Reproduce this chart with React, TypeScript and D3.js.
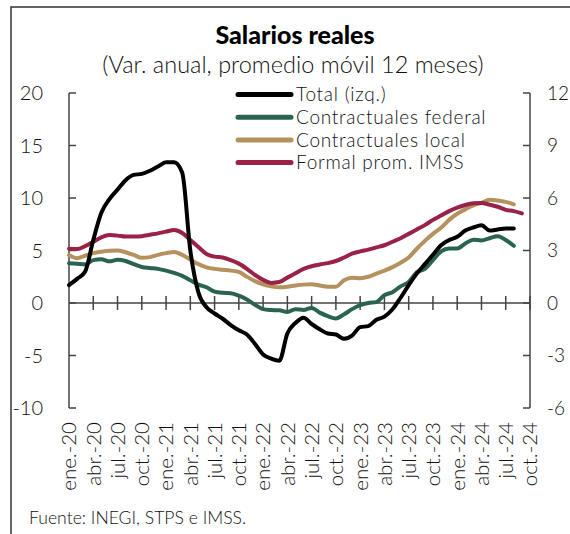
import React from "react";
import * as d3 from "d3";

const tickLabels = [
  "ene.-20", "abr.-20", "jul.-20", "oct.-20",
  "ene.-21", "abr.-21", "jul.-21", "oct.-21",
  "ene.-22", "abr.-22", "jul.-22", "oct.-22",
  "ene.-23", "abr.-23", "jul.-23", "oct.-23",
  "ene.-24", "abr.-24", "jul.-24", "oct.-24",
];
const leftTicks = [-10, -5, 0, 5, 10, 15, 20];
const rightTicks = [-6, -3, 0, 3, 6, 9, 12];

// Total (left axis), monthly from ene-20
const total = [
  1.7, 2.3, 3.0, 6.0, 8.6, 9.9, 10.8, 11.7, 12.2, 12.3, 12.6, 13.0, 13.4, 13.4, 12.4, 5.0, 1.0, -0.4,
  -1.0, -1.5, -2.1, -2.6, -3.0, -3.9, -4.9, -5.3, -5.5, -2.9, -1.9, -1.4, -2.0, -2.5, -2.9, -3.0,
  -3.4, -3.1, -2.3, -2.2, -1.6, -1.3, -0.6, 0.5, 1.7, 2.8, 3.7, 4.6, 5.5, 6.0, 6.3, 6.9, 7.2, 7.4,
  6.9, 7.0, 7.1, 7.1,
];
// Right axis series
const federal = [
  2.27, 2.24, 2.2, 2.45, 2.5, 2.38, 2.47, 2.4, 2.22, 2.06, 2.0, 1.95, 1.85, 1.72, 1.55, 1.3, 1.05, 0.9,
  0.65, 0.58, 0.56, 0.42, 0.2, -0.1, -0.35, -0.4, -0.42, -0.52, -0.35, -0.4, -0.28, -0.55, -0.75, -0.88,
  -0.65, -0.35, -0.12, 0.0, 0.05, 0.45, 0.62, 0.95, 1.2, 1.75, 1.95, 2.45, 2.95, 3.12, 3.12, 3.4, 3.62,
  3.57, 3.7, 3.82, 3.6, 3.27,
];
const local = [
  2.74, 2.56, 2.7, 2.85, 2.93, 2.98, 3.0, 2.9, 2.75, 2.58, 2.62, 2.75, 2.85, 2.92, 2.75, 2.48, 2.22, 2.04,
  1.95, 1.9, 1.85, 1.78, 1.5, 1.25, 1.07, 0.95, 0.9, 0.93, 1.0, 1.05, 1.07, 1.0, 0.93, 0.93, 1.3, 1.45,
  1.42, 1.5, 1.68, 1.85, 2.05, 2.3, 2.6, 3.1, 3.55, 3.95, 4.3, 4.75, 5.1, 5.35, 5.58, 5.72, 5.9, 5.86,
  5.78, 5.64,
];
const imss = [
  3.1, 3.08, 3.25, 3.5, 3.75, 3.88, 3.85, 3.8, 3.8, 3.82, 3.9, 3.98, 4.08, 4.17, 4.0, 3.6, 3.2, 2.8,
  2.65, 2.6, 2.45, 2.25, 1.95, 1.6, 1.32, 1.15, 1.2, 1.45, 1.7, 1.95, 2.1, 2.2, 2.28, 2.4, 2.6, 2.82,
  2.95, 3.05, 3.18, 3.3, 3.5, 3.7, 3.95, 4.2, 4.45, 4.75, 5.0, 5.25, 5.45, 5.6, 5.7, 5.72, 5.62, 5.5,
  5.32, 5.25, 5.12,
];

const seriesNames = ["Total (izq.)", "Contractuales federal", "Contractuales local", "Formal prom. IMSS"];
const seriesColors = ["#000000", "#2a6350", "#b5915e", "#9b2247"];

const FONT = "Lato, 'Open Sans', sans-serif";

export default function App() {
  const x = d3.scaleLinear().domain([0, 57]).range([69, 530]);
  const yL = d3.scaleLinear().domain([-10, 20]).range([408, 93]);
  const yR = d3.scaleLinear().domain([-6, 12]).range([408, 93]);

  const mk = (scale: d3.ScaleLinear<number, number>) =>
    d3
      .line<number>()
      .x((_, i) => x(i))
      .y((d) => scale(d))
      .curve(d3.curveMonotoneX);

  const series = [
    { data: total, scale: yL },
    { data: federal, scale: yR },
    { data: local, scale: yR },
    { data: imss, scale: yR },
  ];
  const drawOrder = [1, 2, 3, 0];
  const tickIdx = tickLabels.map((_, i) => i * 3);
  const axisColor = "#444";

  return (
    <svg width={570} height={534} style={{ position: "absolute", left: 0, top: 0, background: "#fff" }}>
      <rect x={11} y={7} width={600} height={600} fill="none" stroke="#333" strokeWidth={1.5} />
      <text x={295} y={44} textAnchor="middle" fontFamily={FONT} fontWeight={900} fontSize={25} fill="#000">
        Salarios reales
      </text>
      <text x={293} y={73} textAnchor="middle" fontFamily={FONT} fontWeight={300} fontSize={23.5} fill="#111">
        (Var. anual, promedio móvil 12 meses)
      </text>

      {/* left axis */}
      <line x1={69} x2={69} y1={yL(20)} y2={yL(-10)} stroke={axisColor} strokeWidth={1.5} />
      {leftTicks.map((t) => (
        <g key={"l" + t}>
          <line x1={69} x2={76} y1={yL(t)} y2={yL(t)} stroke={axisColor} strokeWidth={1.5} />
          <text x={43} y={yL(t)} dy="0.36em" textAnchor="end" fontFamily={FONT} fontWeight={300} fontSize={20} fill="#111">
            {t}
          </text>
        </g>
      ))}
      {/* right axis */}
      <line x1={530} x2={530} y1={yR(12)} y2={yR(-6)} stroke={axisColor} strokeWidth={1.5} />
      {rightTicks.map((t) => (
        <g key={"r" + t}>
          <line x1={523} x2={530} y1={yR(t)} y2={yR(t)} stroke={axisColor} strokeWidth={1.5} />
          <text x={547} y={yR(t)} dy="0.36em" textAnchor="start" fontFamily={FONT} fontWeight={300} fontSize={19} fill="#111">
            {t}
          </text>
        </g>
      ))}
      {/* x axis at zero */}
      <line x1={69} x2={530} y1={yL(0)} y2={yL(0)} stroke={axisColor} strokeWidth={1.5} />
      {tickIdx.map((i, k) => (
        <g key={"x" + k}>
          {k > 0 && <line x1={x(i)} x2={x(i)} y1={yL(0) - 7} y2={yL(0) + 7} stroke={axisColor} strokeWidth={1.5} />}
          <text
            transform={`translate(${x(i)},422) rotate(-90)`}
            dy="0.36em"
            textAnchor="end"
            fontFamily={FONT}
            fontWeight={300}
            fontSize={20.5}
            fill="#111"
          >
            {tickLabels[k]}
          </text>
        </g>
      ))}

      {drawOrder.map((s) => (
        <path
          key={"s" + s}
          d={mk(series[s].scale)(series[s].data) || ""}
          fill="none"
          stroke={seriesColors[s]}
          strokeWidth={4}
          strokeLinejoin="round"
          strokeLinecap="round"
        />
      ))}

      {/* legend */}
      {seriesNames.map((n, i) => {
        const cy = 94.5 + i * 22.7;
        return (
          <g key={"lg" + i}>
            <line x1={238} x2={291} y1={cy} y2={cy} stroke={seriesColors[i]} strokeWidth={5} strokeLinecap="round" />
            <text
              x={296}
              y={cy}
              dy="0.36em"
              fontFamily={FONT}
              fontWeight={300}
              fontSize={19}
              letterSpacing={0.75}
              fill="#111"
            >
              {n}
            </text>
          </g>
        );
      })}

      <text x={29} y={524} fontFamily={FONT} fontWeight={300} fontSize={17.6} fill="#111">
        Fuente: INEGI, STPS e IMSS.
      </text>
    </svg>
  );
}
